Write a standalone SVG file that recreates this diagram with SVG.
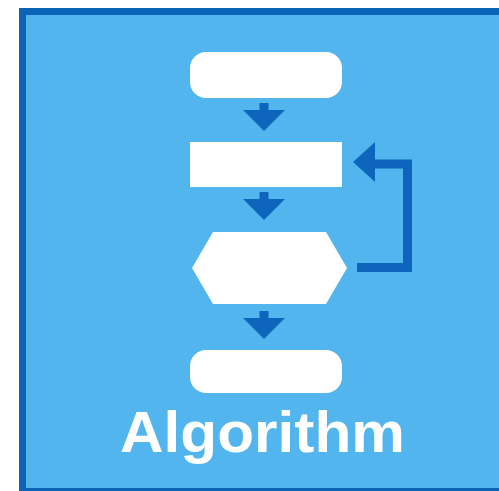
<svg xmlns="http://www.w3.org/2000/svg" width="499" height="491" viewBox="0 0 499 491">
  <style>
    .frame { fill: #0b63b6; }
    .panel { fill: #53b5ed; }
    .box { fill: #ffffff; }
    .arrow { fill: #0d66bc; }
    .loop { fill: none; stroke: #0d66bc; stroke-width: 9; stroke-linejoin: miter; }
    .title { fill: #ffffff; font-family: "Liberation Sans", Arial, sans-serif; font-weight: bold; font-size: 57px; }
  </style>
  <defs>
    <!-- down arrow: short stem with a wide head, origin at stem top centre -->
    <path id="down" d="M-4.5,0 H4.5 V7 H21 L0,28 L-21,7 H-4.5 Z"/>
  </defs>

  <rect width="499" height="491" fill="#ffffff"/>
  <rect class="frame" x="19" y="8" width="490" height="490"/>
  <rect class="panel" x="26" y="15" width="480" height="473"/>

  <g id="start">
    <rect class="box" x="190" y="52" width="152" height="46" rx="16" ry="16"/>
  </g>
  <g id="process">
    <rect class="box" x="190" y="142" width="152" height="45"/>
  </g>
  <g id="decision">
    <polygon class="box" points="192,268 213,232 326,232 347,268 326,304 213,304"/>
  </g>
  <g id="end">
    <rect class="box" x="190" y="350" width="152" height="43" rx="16" ry="16"/>
  </g>

  <g id="connectors">
    <use href="#down" class="arrow" x="264" y="103"/>
    <use href="#down" class="arrow" x="264" y="192"/>
    <use href="#down" class="arrow" x="264" y="311"/>
    <path class="loop" d="M357,267.5 H407.5 V164 H370"/>
    <polygon class="arrow" points="353,162 375,142 375,182"/>
  </g>

  <text class="title" x="120" y="452" textLength="285" lengthAdjust="spacingAndGlyphs">Algorithm</text>
</svg>
